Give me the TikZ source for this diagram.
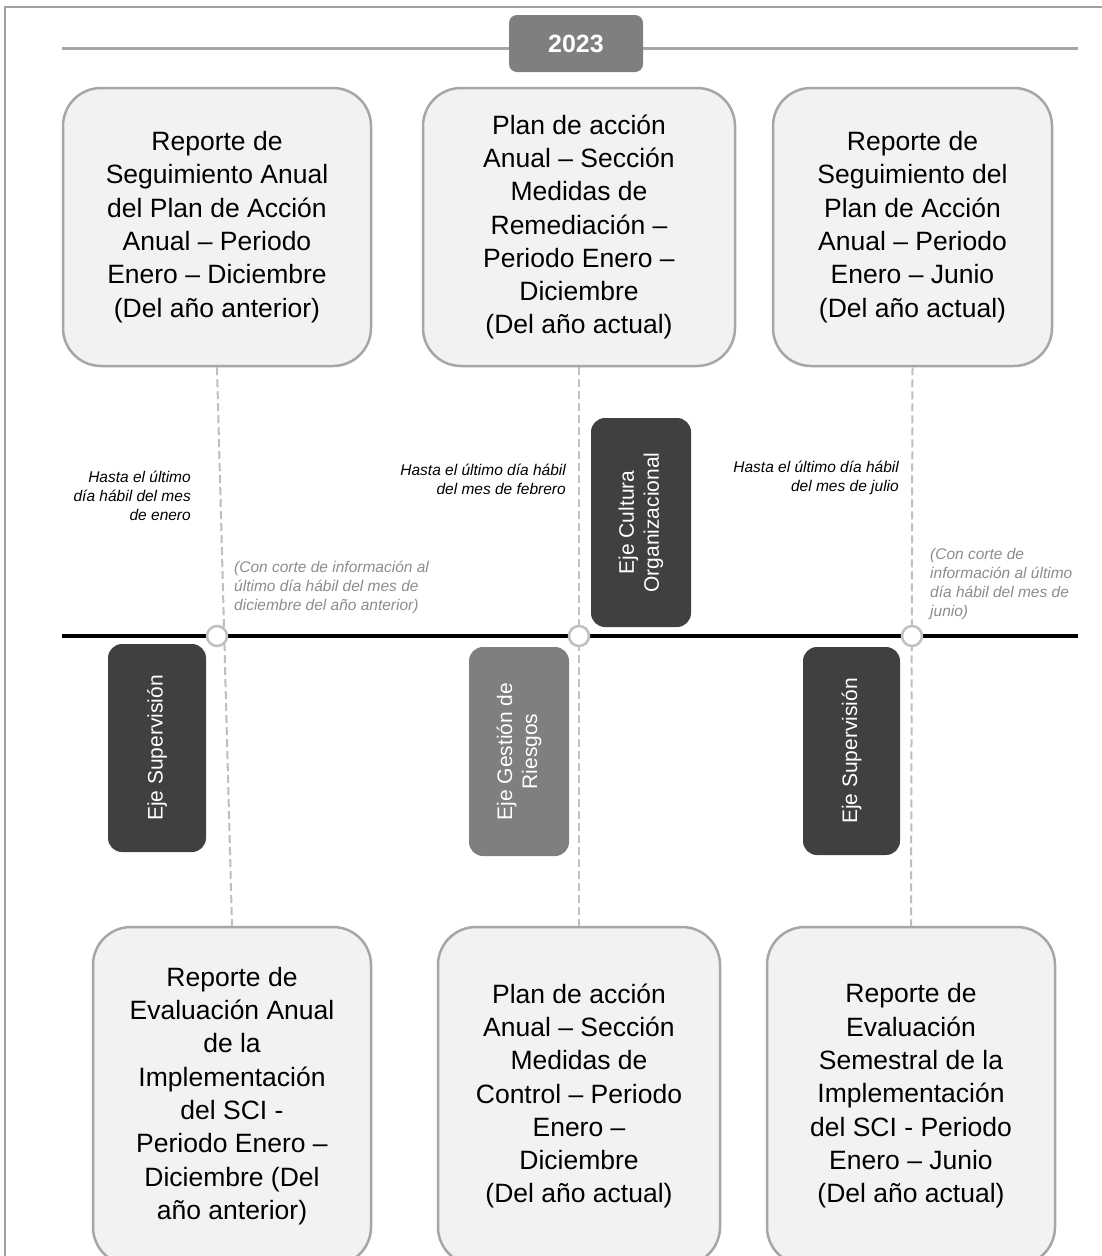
\documentclass[tikz,border=0pt]{standalone}
\usepackage{fontspec}
\setmainfont{Liberation Sans}
\definecolor{boxfill}{RGB}{242,242,242}
\definecolor{boxline}{RGB}{166,166,166}
\definecolor{dashcol}{RGB}{191,191,191}
\definecolor{darkeje}{RGB}{64,64,64}
\definecolor{midgray}{RGB}{127,127,127}
\definecolor{notegray}{RGB}{140,140,140}
\definecolor{framecol}{RGB}{160,160,160}
\begin{document}
\begin{tikzpicture}[x=1pt,y=-1pt,
  docbox/.style={draw=boxline, line width=2.5pt, fill=boxfill, rounded corners=38pt,
    align=center, inner sep=0pt, font=\fontsize{26.5}{33.3}\selectfont},
  ejebox/.style={rounded corners=14pt, rotate=90, align=center, inner sep=0pt,
    text=white, font=\fontsize{21}{25}\selectfont},
  duelabel/.style={inner sep=0pt, font=\fontsize{15.5}{19}\selectfont\itshape},
  cutnote/.style={inner sep=0pt, align=left, text=notegray, font=\fontsize{15.5}{19}\selectfont\itshape},
  connector/.style={draw=dashcol, line width=2pt, dash pattern=on 8pt off 4pt},
  milestone/.style={circle, draw=dashcol, fill=white, line width=2.5pt, minimum size=20pt, inner sep=0pt}
]
\useasboundingbox (0,0) rectangle (1102,1256);
% frame
\draw[framecol, line width=2pt] (5,1260) -- (5,7) -- (1106,7);
% top gray line
\coordinate (gl) at (62,48);
\coordinate (gr) at (1078,48);
\draw[boxline, line width=3pt] (gl) -- (gr);
\node[fill=midgray, rounded corners=8pt, minimum width=134pt, minimum height=57pt, inner sep=0pt,
  text=white, font=\fontsize{25}{30}\selectfont\bfseries] (year) at (576,43.5) {2023};

% top boxes
\node[docbox, minimum width=308pt, minimum height=278pt] (t1) at (217,227)
  {Reporte de\\Seguimiento Anual\\del Plan de Acción\\Anual – Periodo\\Enero – Diciembre\\(Del año anterior)};
\node[docbox, minimum width=312pt, minimum height=278pt] (t2) at (579,227)
  {Plan de acción\\Anual – Sección\\Medidas de\\Remediación –\\Periodo Enero –\\Diciembre\\(Del año actual)};
\node[docbox, minimum width=279pt, minimum height=278pt] (t3) at (912.5,227)
  {Reporte de\\Seguimiento del\\Plan de Acción\\Anual – Periodo\\Enero – Junio\\(Del año actual)};

% bottom boxes
\node[docbox, minimum width=278pt, minimum height=338pt] (b1) at (232,1096)
  {Reporte de\\Evaluación Anual\\de la\\Implementación\\del SCI -\\Periodo Enero –\\Diciembre (Del\\año anterior)};
\node[docbox, minimum width=282pt, minimum height=338pt] (b2) at (579,1096)
  {Plan de acción\\Anual – Sección\\Medidas de\\Control – Periodo\\Enero –\\Diciembre\\(Del año actual)};
\node[docbox, minimum width=288pt, minimum height=338pt] (b3) at (911,1096)
  {Reporte de\\Evaluación\\Semestral de la\\Implementación\\del SCI - Periodo\\Enero – Junio\\(Del año actual)};

% dashed connectors
\draw[connector] (t1.south) -- (b1.north);
\draw[connector] (t2.south) -- (b2.north);
\draw[connector] (t3.south) -- (b3.north);

% timeline
\coordinate (tl) at (62,636);
\coordinate (tr) at (1078,636);
\draw[black, line width=4pt] (tl) -- (tr);
\node[milestone] (m1) at (217,636) {};
\node[milestone] (m2) at (579,636) {};
\node[milestone] (m3) at (912,636) {};

% eje boxes
\node[ejebox, fill=darkeje, minimum width=208pt, minimum height=98pt] (e1) at (157,748) {Eje Supervisión};
\node[ejebox, fill=midgray, minimum width=209pt, minimum height=100pt] (e2) at (519,751.5) {Eje Gestión de\\Riesgos};
\node[ejebox, fill=darkeje, minimum width=209pt, minimum height=100pt] (e3) at (641,522.5) {Eje Cultura\\Organizacional};
\node[ejebox, fill=darkeje, minimum width=208pt, minimum height=97pt] (e4) at (851.5,751) {Eje Supervisión};

% labels
\node[duelabel, align=right, anchor=east] (d1) at (191,496) {Hasta el último\\día hábil del mes\\de enero};
\node[duelabel, align=right, anchor=east] (d2) at (566,479) {Hasta el último día hábil\\del mes de febrero};
\node[duelabel, align=right, anchor=east] (d3) at (899,477.5) {Hasta el último día hábil\\del mes de julio};
\node[cutnote, anchor=west] (n1) at (234,587.5) {(Con corte de información al\\último día hábil del mes de\\diciembre del año anterior)};
\node[cutnote, anchor=west] (n2) at (930,583.5) {(Con corte de\\información al último\\día hábil del mes de\\junio)};
\end{tikzpicture}
\end{document}
